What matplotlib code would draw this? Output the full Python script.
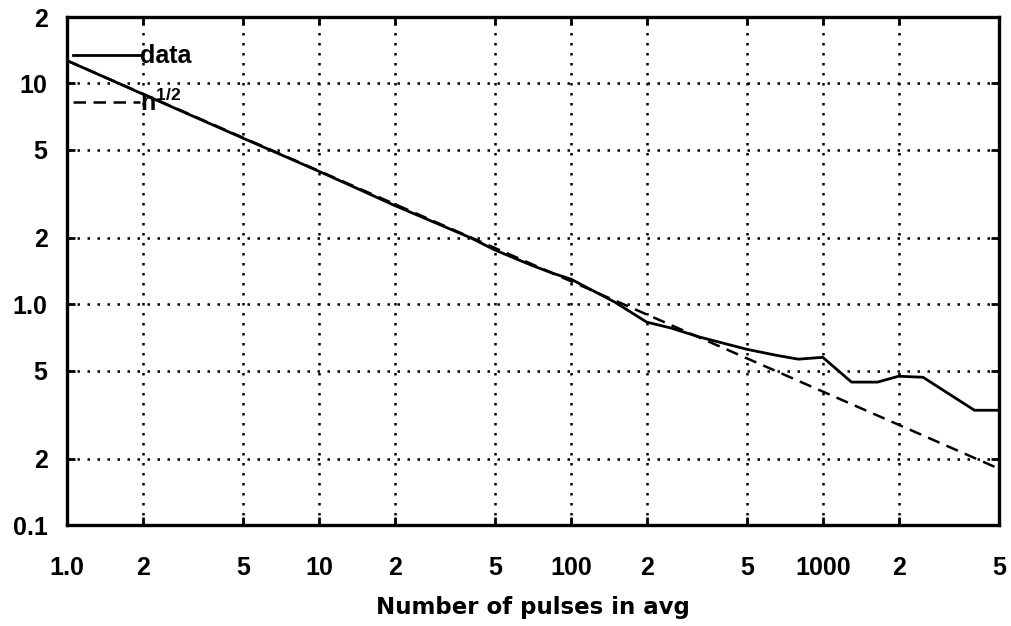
import numpy as np
import matplotlib
matplotlib.use("Agg")
import matplotlib.pyplot as plt
from matplotlib.ticker import FixedLocator, FixedFormatter, NullLocator

# measured noise vs number of averaged pulses
n_pulses = [1, 2, 3, 5, 7, 10, 15, 20, 30, 40, 50, 70, 85, 100, 150, 200,
            250, 325, 500, 650, 800, 1000, 1300, 1650, 2000, 2500, 4000, 5000]
noise = [12.7, 8.95, 7.3, 5.65, 4.78, 4.0, 3.25, 2.8, 2.3, 2.0, 1.76, 1.5,
         1.38, 1.30, 1.02, 0.83, 0.78, 0.71, 0.625, 0.588, 0.564, 0.575,
         0.444, 0.444, 0.472, 0.467, 0.331, 0.331]

# reference n^-1/2 line, end points
ref_n = [1, 5000]
ref_y = [12.7, 0.18]

x_ticks = [1, 2, 5, 10, 20, 50, 100, 200, 500, 1000, 2000, 5000]
x_labels = ['1.0', '2', '5', '10', '2', '5', '100', '2', '5', '1000', '2', '5']
y_ticks = [0.1, 0.2, 0.5, 1, 2, 5, 10, 20]
y_labels = ['0.1', '2', '5', '1.0', '2', '5', '10', '2']

plt.rcParams['font.family'] = ['Liberation Sans', 'DejaVu Sans']
plt.rcParams['font.weight'] = 'bold'
plt.rcParams['mathtext.fontset'] = 'custom'
plt.rcParams['mathtext.rm'] = 'Liberation Sans:bold'
plt.rcParams['mathtext.it'] = 'Liberation Sans:bold'
plt.rcParams['mathtext.bf'] = 'Liberation Sans:bold'

fig = plt.figure(figsize=(10.11, 6.26), dpi=100)
ax = fig.add_axes([0.0663, 0.1613, 0.9217, 0.8115])

ax.plot(n_pulses, noise, color='black', lw=2, label='data')
ax.plot(ref_n, ref_y, color='black', lw=1.8, dashes=(5, 3),
        label=r'n$^{\mathrm{1/2}}$')

ax.set_xscale('log')
ax.set_yscale('log')
ax.set_xlim(1, 5000)
ax.set_ylim(0.1, 20)

ax.xaxis.set_major_locator(FixedLocator(x_ticks))
ax.xaxis.set_major_formatter(FixedFormatter(x_labels))
ax.yaxis.set_major_locator(FixedLocator(y_ticks))
ax.yaxis.set_major_formatter(FixedFormatter(y_labels))
ax.xaxis.set_minor_locator(NullLocator())
ax.yaxis.set_minor_locator(NullLocator())

ax.grid(True, color='black', lw=1.8, linestyle=(0, (1, 3)))
ax.tick_params(direction='in', length=6, width=2, top=True, right=True,
               labelsize=18)
ax.tick_params(axis='x', pad=22)
ax.tick_params(axis='y', pad=14)
for s in ax.spines.values():
    s.set_linewidth(2.4)

ax.set_xlabel('Number of pulses in avg', fontsize=16.5, fontweight='bold',
              family='DejaVu Sans', labelpad=12)

ax.legend(loc='upper left', bbox_to_anchor=(0.006, 0.946), frameon=False,
          fontsize=18, handlelength=2.7, handletextpad=0.0,
          borderpad=0, borderaxespad=0, labelspacing=0.8)

fig.savefig('out.png', dpi=100)
